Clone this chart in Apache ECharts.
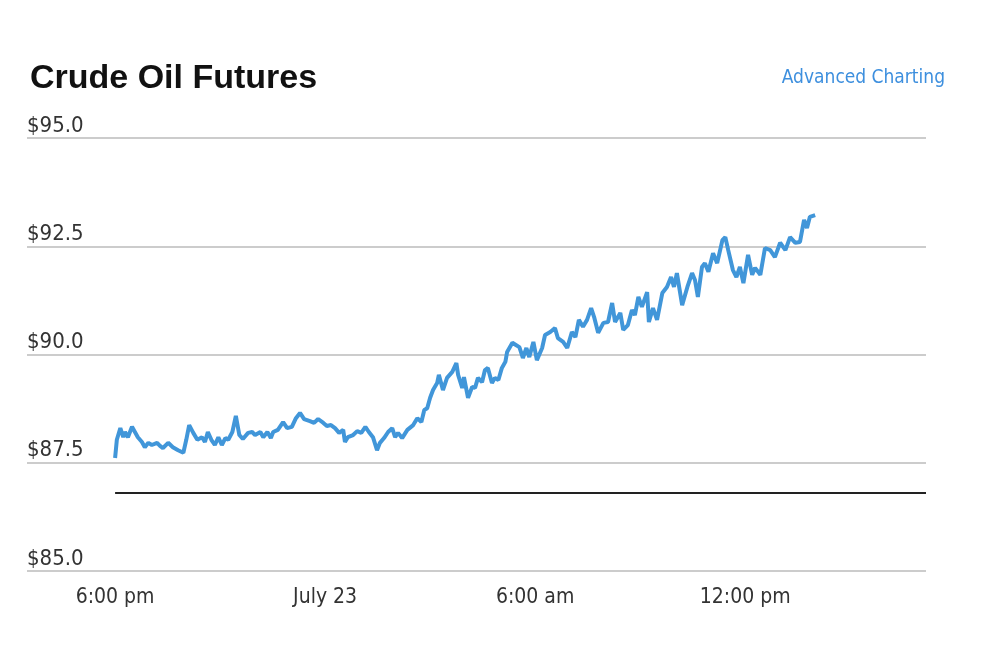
<!DOCTYPE html>
<html>
<head>
<meta charset="utf-8">
<title>Crude Oil Futures</title>
<script src="https://cdn.jsdelivr.net/npm/echarts@6/dist/echarts.min.js"></script>
<style>
  html, body { margin: 0; padding: 0; background: #fff; }
  #chart { width: 992px; height: 646px; }
</style>
</head>
<body>
<div id="chart"></div>
<script>
// minutes since 6:00 pm (July 22)
const minutes = [
    0, 3, 9, 14, 17, 22, 29, 34, 39, 46, 51, 57, 63, 72, 77, 82, 91, 99, 108, 117,
    122, 127, 134, 141, 149, 154, 159, 165, 171, 177, 183, 189, 194, 201, 207, 213, 219, 228, 235, 240,
    249, 254, 261, 267, 271, 279, 288, 295, 303, 310, 317, 324, 334, 341, 348, 357, 363, 370, 377, 384,
    391, 394, 399, 408, 415, 422, 429, 435, 442, 449, 454, 461, 468, 475, 480, 485, 492, 501, 511, 518,
    525, 530, 535, 540, 545, 552, 555, 562, 569, 578, 585, 588, 595, 598, 605, 612, 617, 622, 629, 634,
    639, 646, 651, 657, 663, 669, 672, 681, 687, 693, 699, 705, 710, 717, 723, 732, 737, 746, 754, 759,
    768, 775, 783, 789, 795, 802, 809, 816, 821, 828, 837, 845, 852, 857, 866, 871, 879, 886, 891, 897,
    903, 912, 915, 922, 929, 938, 946, 953, 958, 963, 972, 981, 989, 994, 999, 1006, 1011, 1017, 1025, 1032,
    1041, 1046, 1051, 1059, 1065, 1071, 1077, 1085, 1092, 1097, 1106, 1114, 1123, 1131, 1140, 1149, 1157, 1166, 1174, 1181,
    1186, 1191, 1200
];
const prices = [
    87.61, 88.03, 88.30, 88.09, 88.21, 88.09, 88.33, 88.21, 88.09, 87.98, 87.86, 87.96, 87.91, 87.96, 87.89, 87.84, 87.96, 87.86, 87.79, 87.73,
    88.03, 88.37, 88.19, 88.03, 88.09, 87.98, 88.21, 88.03, 87.91, 88.09, 87.91, 88.07, 88.03, 88.21, 88.58, 88.14, 88.05, 88.19, 88.21, 88.14,
    88.21, 88.09, 88.21, 88.07, 88.21, 88.26, 88.44, 88.30, 88.33, 88.53, 88.65, 88.51, 88.46, 88.42, 88.51, 88.42, 88.35, 88.37, 88.30, 88.19,
    88.26, 87.98, 88.09, 88.14, 88.23, 88.19, 88.33, 88.21, 88.09, 87.79, 87.96, 88.07, 88.21, 88.30, 88.09, 88.19, 88.07, 88.26, 88.37, 88.53,
    88.44, 88.72, 88.76, 89.00, 89.18, 89.34, 89.53, 89.18, 89.46, 89.60, 89.80, 89.53, 89.23, 89.48, 89.00, 89.25, 89.23, 89.46, 89.36, 89.64,
    89.69, 89.34, 89.46, 89.41, 89.69, 89.83, 90.06, 90.27, 90.22, 90.17, 89.92, 90.15, 89.94, 90.29, 89.87, 90.15, 90.45, 90.52, 90.61, 90.38,
    90.29, 90.15, 90.52, 90.40, 90.80, 90.64, 90.80, 91.07, 90.87, 90.50, 90.73, 90.75, 91.19, 90.75, 90.96, 90.57, 90.68, 91.03, 90.91, 91.33,
    91.10, 91.44, 90.75, 91.07, 90.80, 91.42, 91.56, 91.79, 91.56, 91.88, 91.14, 91.56, 91.88, 91.72, 91.33, 92.02, 92.11, 91.91, 92.34, 92.11,
    92.64, 92.71, 92.41, 91.95, 91.79, 92.02, 91.65, 92.30, 91.84, 92.00, 91.84, 92.46, 92.41, 92.25, 92.58, 92.41, 92.71, 92.58, 92.60, 93.11,
    92.92, 93.18, 93.22
];
const priorSettle = 86.80;

const xTickValues = [0, 360, 720, 1080];
const xTickLabels = ['6:00 pm', 'July 23', '6:00 am', '12:00 pm'];
const yTicks = [85, 87.5, 90, 92.5, 95];

const xMin = -151;   // where the gridlines start, left of 6:00 pm
const xMax = 1390;   // end of the session window

const narrow = "'DejaVu Sans Condensed', 'Liberation Sans Narrow', sans-serif";

const chart = echarts.init(document.getElementById('chart'));

chart.setOption({
    animation: false,
    title: [{
        text: 'Crude Oil Futures',
        left: 25,
        top: 57,
        textStyle: {
            fontFamily: "'Liberation Sans', sans-serif",
            fontWeight: 'bold',
            fontSize: 34,
            color: '#111'
        }
    }, {
        text: 'Advanced Charting',
        right: 42,
        top: 64,
        textStyle: {
            fontFamily: narrow,
            fontWeight: 'normal',
            fontSize: 19,
            color: '#3d8fde'
        }
    }],
    grid: {
        left: 27,
        right: 66,
        top: 138,
        bottom: 75
    },
    xAxis: {
        type: 'value',
        min: xMin,
        max: xMax,
        axisLine: { show: false },
        axisTick: { show: false },
        splitLine: { show: false },
        axisLabel: {
            customValues: xTickValues,
            margin: 16,
            fontFamily: narrow,
            fontSize: 21,
            color: '#333',
            formatter: function (v) {
                const i = xTickValues.indexOf(v);
                return i >= 0 ? xTickLabels[i] : '';
            }
        }
    },
    yAxis: {
        type: 'value',
        min: yTicks[0],
        max: yTicks[yTicks.length - 1],
        interval: 2.5,
        axisLine: { show: false },
        axisTick: { show: false },
        splitLine: { lineStyle: { color: '#cccccc', width: 2 } },
        axisLabel: {
            inside: true,
            margin: 0,
            verticalAlign: 'bottom',
            padding: [0, 0, 1, 0],
            fontFamily: narrow,
            fontSize: 22,
            color: '#333',
            formatter: function (v) { return '$' + v.toFixed(1); }
        }
    },
    series: [{
        type: 'line',
        data: minutes.map(function (m, i) { return [m, prices[i]]; }),
        showSymbol: false,
        lineStyle: { color: '#4196d9', width: 4 },
        itemStyle: { color: '#4196d9' },
        markLine: {
            silent: true,
            symbol: 'none',
            label: { show: false },
            lineStyle: { color: '#222', width: 2, type: 'solid' },
            data: [[{ coord: [0, priorSettle] }, { coord: [xMax, priorSettle] }]]
        }
    }]
});
</script>
</body>
</html>
